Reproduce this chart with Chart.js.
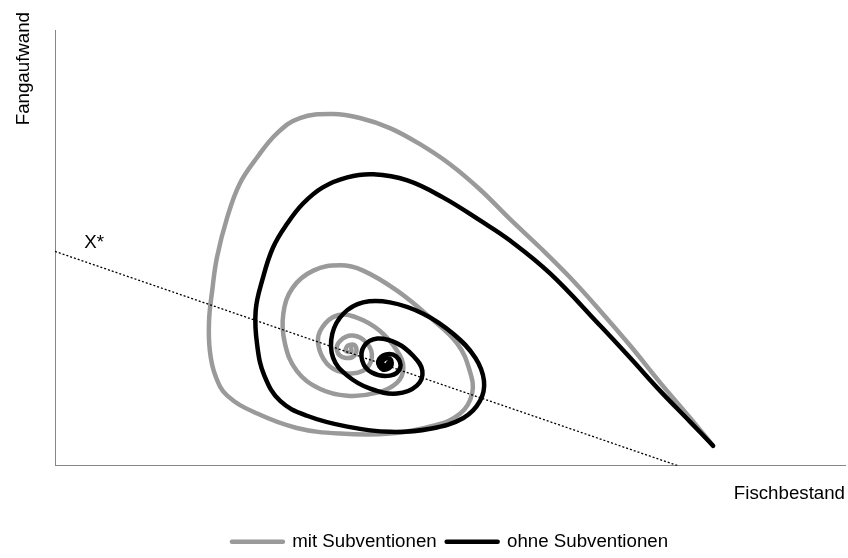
<!DOCTYPE html>
<html>
<head>
<meta charset="utf-8">
<script src="https://cdn.jsdelivr.net/npm/chart.js@4"></script>
<style>
  html, body { margin: 0; padding: 0; background: #fff; }
  #wrap { width: 848px; height: 558px; }
</style>
</head>
<body>
<div id="wrap"><canvas id="chart" width="848" height="558"></canvas></div>
<script>
// Fischbestand (x) / Fangaufwand (y), 0..100 units
const mitX = [83.3, 80.4, 76.6, 72.8, 69.0, 65.2, 61.4, 57.6, 53.8, 50.0, 46.2, 42.4, 38.6, 35.2, 31.0, 28.1, 25.6, 23.4, 21.8, 20.5, 19.9, 19.5, 19.6, 20.3, 21.8, 25.6, 30.6, 36.1, 42.4, 47.9, 51.3, 52.8, 52.5, 50.9, 47.5, 43.3, 39.0, 36.1, 32.7, 30.1, 28.9, 29.1, 30.6, 33.5, 37.0, 40.8, 43.3, 44.1, 43.3, 41.1, 38.2, 35.7, 33.8, 33.3, 34.4, 36.5, 39.0, 40.1, 39.5, 37.7, 36.1, 35.7, 36.7, 38.0, 38.0, 37.1, 36.8, 37.5, 37.5];
const mitY = [4.6, 11.0, 19.1, 27.6, 35.6, 43.2, 50.1, 56.6, 63.4, 69.2, 73.8, 77.5, 79.8, 80.7, 79.8, 76.3, 70.8, 64.8, 57.0, 47.8, 40.2, 33.3, 26.4, 20.7, 16.1, 12.0, 8.7, 7.4, 7.4, 9.2, 12.0, 16.6, 21.8, 28.1, 34.0, 40.2, 44.8, 46.0, 44.8, 40.9, 34.9, 28.1, 21.8, 17.7, 16.1, 16.8, 19.1, 22.5, 26.4, 31.0, 34.0, 34.5, 31.7, 28.1, 23.5, 21.4, 21.8, 24.8, 28.1, 29.9, 28.7, 26.4, 24.8, 25.5, 27.6, 27.6, 26.4, 26.2, 26.9];

const ohneX = [83.3, 80.4, 76.6, 72.8, 69.0, 62.7, 57.6, 53.8, 49.1, 44.6, 40.3, 37.0, 33.9, 31.4, 29.4, 27.6, 26.3, 25.4, 25.6, 26.5, 28.5, 31.9, 37.0, 42.4, 47.5, 51.7, 53.8, 54.3, 53.2, 50.4, 46.6, 42.4, 39.0, 36.5, 35.1, 35.2, 37.0, 39.9, 43.3, 45.8, 46.5, 45.3, 43.3, 40.8, 39.1, 38.9, 40.1, 42.4, 43.7, 43.2, 41.8, 40.9, 41.5, 42.5, 42.5, 41.8, 41.4, 41.9, 42.2];
const ohneY = [4.6, 10.1, 17.2, 24.8, 32.2, 44.1, 51.7, 56.3, 61.6, 65.5, 66.9, 66.2, 63.9, 60.2, 55.6, 50.1, 43.0, 35.6, 27.6, 20.7, 14.9, 11.5, 9.0, 7.8, 8.5, 11.0, 14.9, 19.5, 24.8, 30.3, 34.9, 37.5, 37.5, 34.9, 30.3, 24.8, 20.7, 17.7, 16.6, 18.4, 21.8, 25.3, 28.1, 29.2, 27.4, 24.1, 21.4, 20.7, 22.5, 25.1, 25.5, 23.9, 22.1, 22.8, 24.4, 24.6, 23.5, 23.0, 23.7];

// Gleichgewichtslinie X*
const xStarX = [0, 78.9];
const xStarY = [49.2, 0];
const xStarLabelPos = [3.7, 50.0];

const labels = ['mit Subventionen', 'ohne Subventionen'];
const textFont = "'Liberation Sans', Arial, sans-serif";

function toPoints(xs, ys) {
    return xs.map((x, i) => ({ x: x, y: ys[i] }));
}

const extraText = {
    id: 'extraText',
    afterDraw(chart) {
        const ctx = chart.ctx;
        const x = chart.scales.x;
        const y = chart.scales.y;
        ctx.save();
        ctx.fillStyle = '#000';
        ctx.font = '18.7px ' + textFont;
        // X* Beschriftung
        ctx.textAlign = 'left';
        ctx.textBaseline = 'alphabetic';
        ctx.fillText('X*', x.getPixelForValue(xStarLabelPos[0]), y.getPixelForValue(xStarLabelPos[1]));
        // y-Achsentitel, oben links
        ctx.translate(29, 12);
        ctx.rotate(-Math.PI / 2);
        ctx.textAlign = 'right';
        ctx.fillText('Fangaufwand', 0, 0);
        ctx.restore();
    }
};

new Chart(document.getElementById('chart'), {
    type: 'scatter',
    data: {
        datasets: [{
            label: labels[0],
            data: toPoints(mitX, mitY),
            showLine: true,
            borderColor: '#9a9a9a',
            backgroundColor: '#9a9a9a',
            borderWidth: 4.5,
            borderJoinStyle: 'round',
            borderCapStyle: 'round',
            pointRadius: 0,
            tension: 0.4,
            order: 2
        }, {
            label: labels[1],
            data: toPoints(ohneX, ohneY),
            showLine: true,
            borderColor: '#000',
            backgroundColor: '#000',
            borderWidth: 4.5,
            borderJoinStyle: 'round',
            borderCapStyle: 'round',
            pointRadius: 0,
            tension: 0.4,
            order: 1
        }, {
            label: 'X*',
            data: toPoints(xStarX, xStarY),
            showLine: true,
            borderColor: '#000',
            borderWidth: 1.3,
            borderDash: [2, 2],
            pointRadius: 0,
            order: 0
        }]
    },
    options: {
        responsive: false,
        animation: false,
        layout: { padding: { left: 55, right: 3, top: 30, bottom: -3 } },
        scales: {
            x: {
                min: 0, max: 100,
                grid: { display: false, drawTicks: false },
                border: { color: '#868686', width: 1 },
                ticks: { display: false },
                title: {
                    display: true,
                    text: 'Fischbestand',
                    align: 'end',
                    color: '#000',
                    font: { family: textFont, size: 18.7 },
                    padding: { top: 17, bottom: 17 }
                }
            },
            y: {
                min: 0, max: 100,
                grid: { display: false, drawTicks: false },
                border: { color: '#868686', width: 1 },
                ticks: { display: false }
            }
        },
        plugins: {
            legend: {
                position: 'bottom',
                labels: {
                    color: '#000',
                    font: { family: textFont, size: 18.7 },
                    boxWidth: 51,
                    boxHeight: 0,
                    padding: 10,
                    filter: item => item.datasetIndex < 2,
                    sort: (a, b) => a.datasetIndex - b.datasetIndex
                }
            },
            tooltip: { enabled: false }
        }
    },
    plugins: [extraText]
});
</script>
</body>
</html>
